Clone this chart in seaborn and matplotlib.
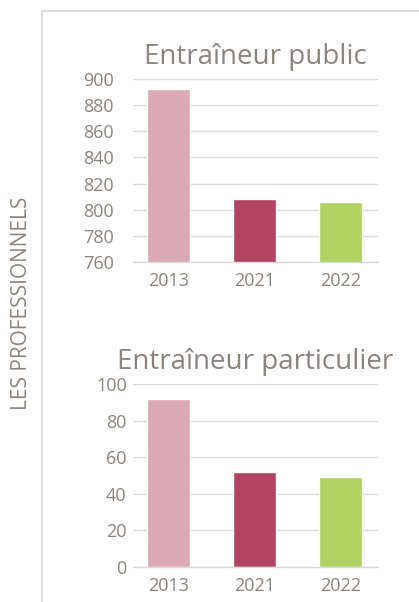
import matplotlib
matplotlib.use("Agg")
import matplotlib.pyplot as plt
import seaborn as sns
import pandas as pd
from matplotlib.lines import Line2D

# Data
years = ["2013", "2021", "2022"]
public_values = [892, 808, 806]
private_values = [92, 52, 49]
bar_colors = ["#DBA9B5", "#B14462", "#AFD263"]

titles = ["Entraîneur public", "Entraîneur particulier"]
public_ticks = [760, 780, 800, 820, 840, 860, 880, 900]
private_ticks = [0, 20, 40, 60, 80, 100]
side_label = "LES PROFESSIONNELS"

sns.set_theme(style="white")
plt.rcParams["font.family"] = ["Open Sans", "DejaVu Sans"]

text_color = "#8C857E"
grid_color = "#DADADA"

fig = plt.figure(figsize=(4.19, 6.02), dpi=100)

ax_top = fig.add_axes([133 / 419, 1 - 262 / 602, 245 / 419, 183 / 602])
ax_bot = fig.add_axes([133 / 419, 1 - 567 / 602, 245 / 419, 183 / 602])

panels = [
    (ax_top, public_values, public_ticks, (760, 900), titles[0], 14),
    (ax_bot, private_values, private_ticks, (0, 100), titles[1], 4.5),
]

for ax, vals, ticks, lims, title, ypad in panels:
    df = pd.DataFrame({"year": years, "value": vals})
    sns.barplot(data=df, x="year", y="value", hue="year", palette=bar_colors,
                width=0.5, legend=False, ax=ax, saturation=1)
    ax.set_ylim(*lims)
    ax.set_xlim(-0.41, 2.43)
    ax.set_yticks(ticks)
    ax.set_xlabel("")
    ax.set_ylabel("")
    ax.set_axisbelow(True)
    ax.yaxis.grid(True, color=grid_color, linewidth=1)
    for s in ["top", "right", "left"]:
        ax.spines[s].set_visible(False)
    ax.spines["bottom"].set_color(grid_color)
    ax.spines["bottom"].set_linewidth(1)
    ax.tick_params(axis="y", length=0, pad=ypad, labelsize=13, labelcolor=text_color)
    ax.tick_params(axis="x", length=0, pad=7.5, labelsize=13, labelcolor=text_color)
    ax.set_title(title, fontsize=20, color=text_color, pad=11)

# Frame lines
fig.add_artist(Line2D([41.5 / 419, 41.5 / 419], [0, 1 - 10.5 / 602],
                      transform=fig.transFigure, color="#DDDDDD", linewidth=1.5))
fig.add_artist(Line2D([41.5 / 419, 1], [1 - 10.5 / 602, 1 - 10.5 / 602],
                      transform=fig.transFigure, color="#DDDDDD", linewidth=1.5))

fig.text(22 / 419, 1 - 303 / 602, side_label, rotation=90, ha="center", va="center",
         fontsize=15, color=text_color)

fig.savefig("out.png", dpi=100, facecolor="white")
